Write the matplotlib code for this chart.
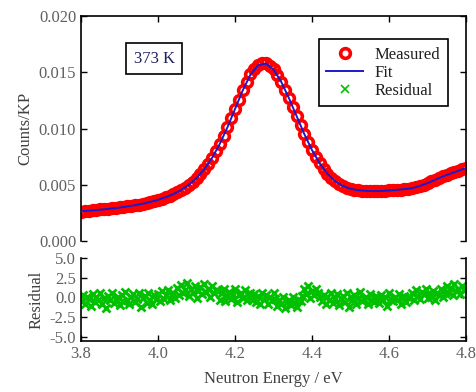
import numpy as np
import matplotlib
matplotlib.use("Agg")
import matplotlib.pyplot as plt

plt.rcParams['font.family'] = ['Liberation Serif', 'DejaVu Serif']

# measured spectrum, 0.01 eV steps from 3.80 to 4.80
measured = [
    0.00262, 0.00270, 0.00268, 0.00276, 0.00274, 0.00281, 0.00285, 0.00284, 0.00293, 0.00292,
    0.00300, 0.00301, 0.00310, 0.00312, 0.00320, 0.00324, 0.00334, 0.00338, 0.00350, 0.00356,
    0.00368, 0.00377, 0.00392, 0.00402, 0.00420, 0.00434, 0.00456, 0.00475, 0.00502, 0.00528,
    0.00563, 0.00598, 0.00640, 0.00686, 0.00740, 0.00798, 0.00865, 0.00935, 0.01012, 0.01093,
    0.01178, 0.01258, 0.01342, 0.01415, 0.01482, 0.01530, 0.01568, 0.01585, 0.01582, 0.01560,
    0.01528, 0.01475, 0.01418, 0.01345, 0.01272, 0.01190, 0.01112, 0.01030, 0.00952, 0.00878,
    0.00810, 0.00746, 0.00692, 0.00640, 0.00600, 0.00562, 0.00534, 0.00508, 0.00492, 0.00476,
    0.00466, 0.00458, 0.00453, 0.00447, 0.00447, 0.00443, 0.00445, 0.00442, 0.00446, 0.00446,
    0.00450, 0.00451, 0.00456, 0.00458, 0.00463, 0.00466, 0.00472, 0.00480, 0.00490, 0.00502,
    0.00516, 0.00530, 0.00546, 0.00560, 0.00576, 0.00588, 0.00602, 0.00612, 0.00626, 0.00638,
    0.00652,
]

# fitted curve, 0.02 eV steps
fit = [
    0.00265, 0.00270, 0.00276, 0.00282, 0.00290, 0.00298, 0.00308, 0.00319, 0.00332, 0.00348,
    0.00367, 0.00390, 0.00418, 0.00454, 0.00500, 0.00560, 0.00638, 0.00738, 0.00862, 0.01010,
    0.01175, 0.01340, 0.01480, 0.01562, 0.01578, 0.01525, 0.01415, 0.01270, 0.01110, 0.00950,
    0.00808, 0.00690, 0.00598, 0.00532, 0.00490, 0.00465, 0.00452, 0.00446, 0.00444, 0.00445,
    0.00450, 0.00455, 0.00462, 0.00470, 0.00490, 0.00515, 0.00545, 0.00575, 0.00600, 0.00625,
    0.00650,
]

# residuals, 0.005 eV steps
residual = [
    -0.5, 0.3, -0.9, 0.1, -0.2, -1.1, 0.4, -0.6, 0.0, -0.3,
    0.6, -0.8, -0.1, -1.3, 0.2, -0.4, 0.5, -0.7, -0.2, 0.1,
    -1.0, 0.3, -0.5, 0.7, -0.3, -0.9, 0.0, 0.4, -0.6, -0.2,
    0.5, -1.2, -0.1, 0.2, -0.7, 0.6, -0.4, -0.9, 0.3, -0.2,
    0.4, -0.5, 0.8, -0.2, 0.3, 0.9, -0.4, 0.2, 0.6, -0.1,
    1.2, 0.3, 1.6, 0.5, 0.9, 1.8, 0.2, 1.1, 0.6, 1.4,
    -0.1, 0.8, 1.3, 0.4, 1.7, 0.7, 1.0, 0.1, 1.5, 0.6, 0.9,
    0.8, -0.3, 0.5, 1.1, -0.5, 0.2, 0.7, -0.2, 0.4, 1.0,
    -0.6, 0.3, 0.6, -0.1, 0.9, -0.4, 0.2, 0.5, -0.3,
    0.4, -0.6, 0.2, -0.9, 0.5, -0.2, 0.3, -0.8, 0.1, -0.4, 0.6,
    -0.2, -1.1, -0.4, -0.9, 0.1, -1.3, -0.6, -0.3, -1.0, 0.0, -0.7, -1.2, -0.4, -0.5,
    0.2, 1.0, 0.4, 1.5, -0.1, 0.8, 0.3, 1.1, 0.6, 0.0,
    -0.5, 0.3, -0.9, 0.1, -0.3, 0.6, -0.7, -0.1, 0.4, -1.0,
    -0.2, 0.2, -0.6, 0.5, -1.2, 0.0, -0.4, 0.3, -0.8, -0.1,
    0.7, -0.5, -0.2, 0.1, -0.9, 0.4, -0.3, -0.6, 0.2, -0.1,
    -0.7, 0.3, -0.4, 0.0, -1.1, 0.5, -0.2, -0.5, 0.1, -0.3,
    0.4, -0.8, -0.1, 0.2, -0.6, 0.0,
    0.0, 0.6, -0.3, 0.9, 0.2, -0.2, 0.7, 0.4, 1.0, -0.1,
    0.5, 0.1, 0.8, -0.4, 0.6, 0.3, 1.1, 0.0, 0.5,
    1.4, 0.5, 1.2, 0.3, 1.7, 0.8, 1.0, 0.4, 1.5, 0.9, 1.1,
]

e_meas = np.linspace(3.8, 4.8, len(measured))
e_fit = np.linspace(3.8, 4.8, len(fit))
e_res = np.linspace(3.8, 4.8, len(residual))

xticks = [3.8, 4.0, 4.2, 4.4, 4.6, 4.8]
yticks_main = [0.000, 0.005, 0.010, 0.015, 0.020]
yticks_res = [-5.0, -2.5, 0.0, 2.5, 5.0]

tick_col = '#606060'
lab_col = '#404040'
fs = 12

fig = plt.figure(figsize=(4.77, 3.92), dpi=100)
ax = fig.add_axes([0.170, 0.385, 0.807, 0.574])
axr = fig.add_axes([0.170, 0.129, 0.807, 0.213])

ax.plot(e_meas, measured, 'o', mfc='none', mec='#ff0000', mew=2.6, ms=7, label='Measured', zorder=2)
ax.plot(e_fit, fit, '-', color='#1a1acc', lw=1.4, label='Fit', zorder=3)
ax.plot([], [], 'x', color='#00c000', ms=6, mew=1.2, label='Residual')

ax.set_xlim(3.8, 4.8)
ax.set_ylim(0, 0.020)
ax.set_xticks(xticks)
ax.set_yticks(yticks_main)
ax.set_yticklabels(['%.3f' % v for v in yticks_main])
ax.spines['bottom'].set_visible(False)
ax.tick_params(direction='in', length=4, width=1, top=True, right=True, bottom=False,
               labelbottom=False, labelsize=fs, labelcolor=tick_col)
for s in ax.spines.values():
    s.set_linewidth(1.2)
ax.set_ylabel('Counts/KP', fontsize=fs, color=lab_col, labelpad=4)

ax.text(0.19, 0.81, '373 K', transform=ax.transAxes, ha='center', va='center',
        fontsize=fs, color='#202060',
        bbox=dict(boxstyle='square,pad=0.45', fc='white', ec='black', lw=1.2))

leg = ax.legend(loc='upper right', bbox_to_anchor=(0.953, 0.898), fontsize=12,
                fancybox=False, framealpha=1, edgecolor='black', handlelength=2.2,
                borderpad=0.45, labelspacing=0.12, handletextpad=0.7, borderaxespad=0)
leg.get_frame().set_linewidth(1.2)
for t in leg.get_texts():
    t.set_color('#202020')

axr.plot(e_res, residual, 'x', color='#00c000', ms=6, mew=2.0)
axr.set_xlim(3.8, 4.8)
axr.set_ylim(-5.6, 5.0)
axr.set_xticks(xticks)
axr.set_xticklabels(['%.1f' % v for v in xticks])
axr.set_yticks(yticks_res)
axr.set_yticklabels(['%.1f' % v for v in yticks_res])
axr.spines['top'].set_visible(False)
axr.tick_params(direction='in', length=4, width=1, right=True, top=False,
                labelsize=fs, labelcolor=tick_col)
for s in axr.spines.values():
    s.set_linewidth(1.2)
axr.set_ylabel('Residual', fontsize=fs, color=lab_col, labelpad=4)
axr.set_xlabel('Neutron Energy / eV', fontsize=fs, color=lab_col, labelpad=6)

fig.savefig('out.png', dpi=100)
